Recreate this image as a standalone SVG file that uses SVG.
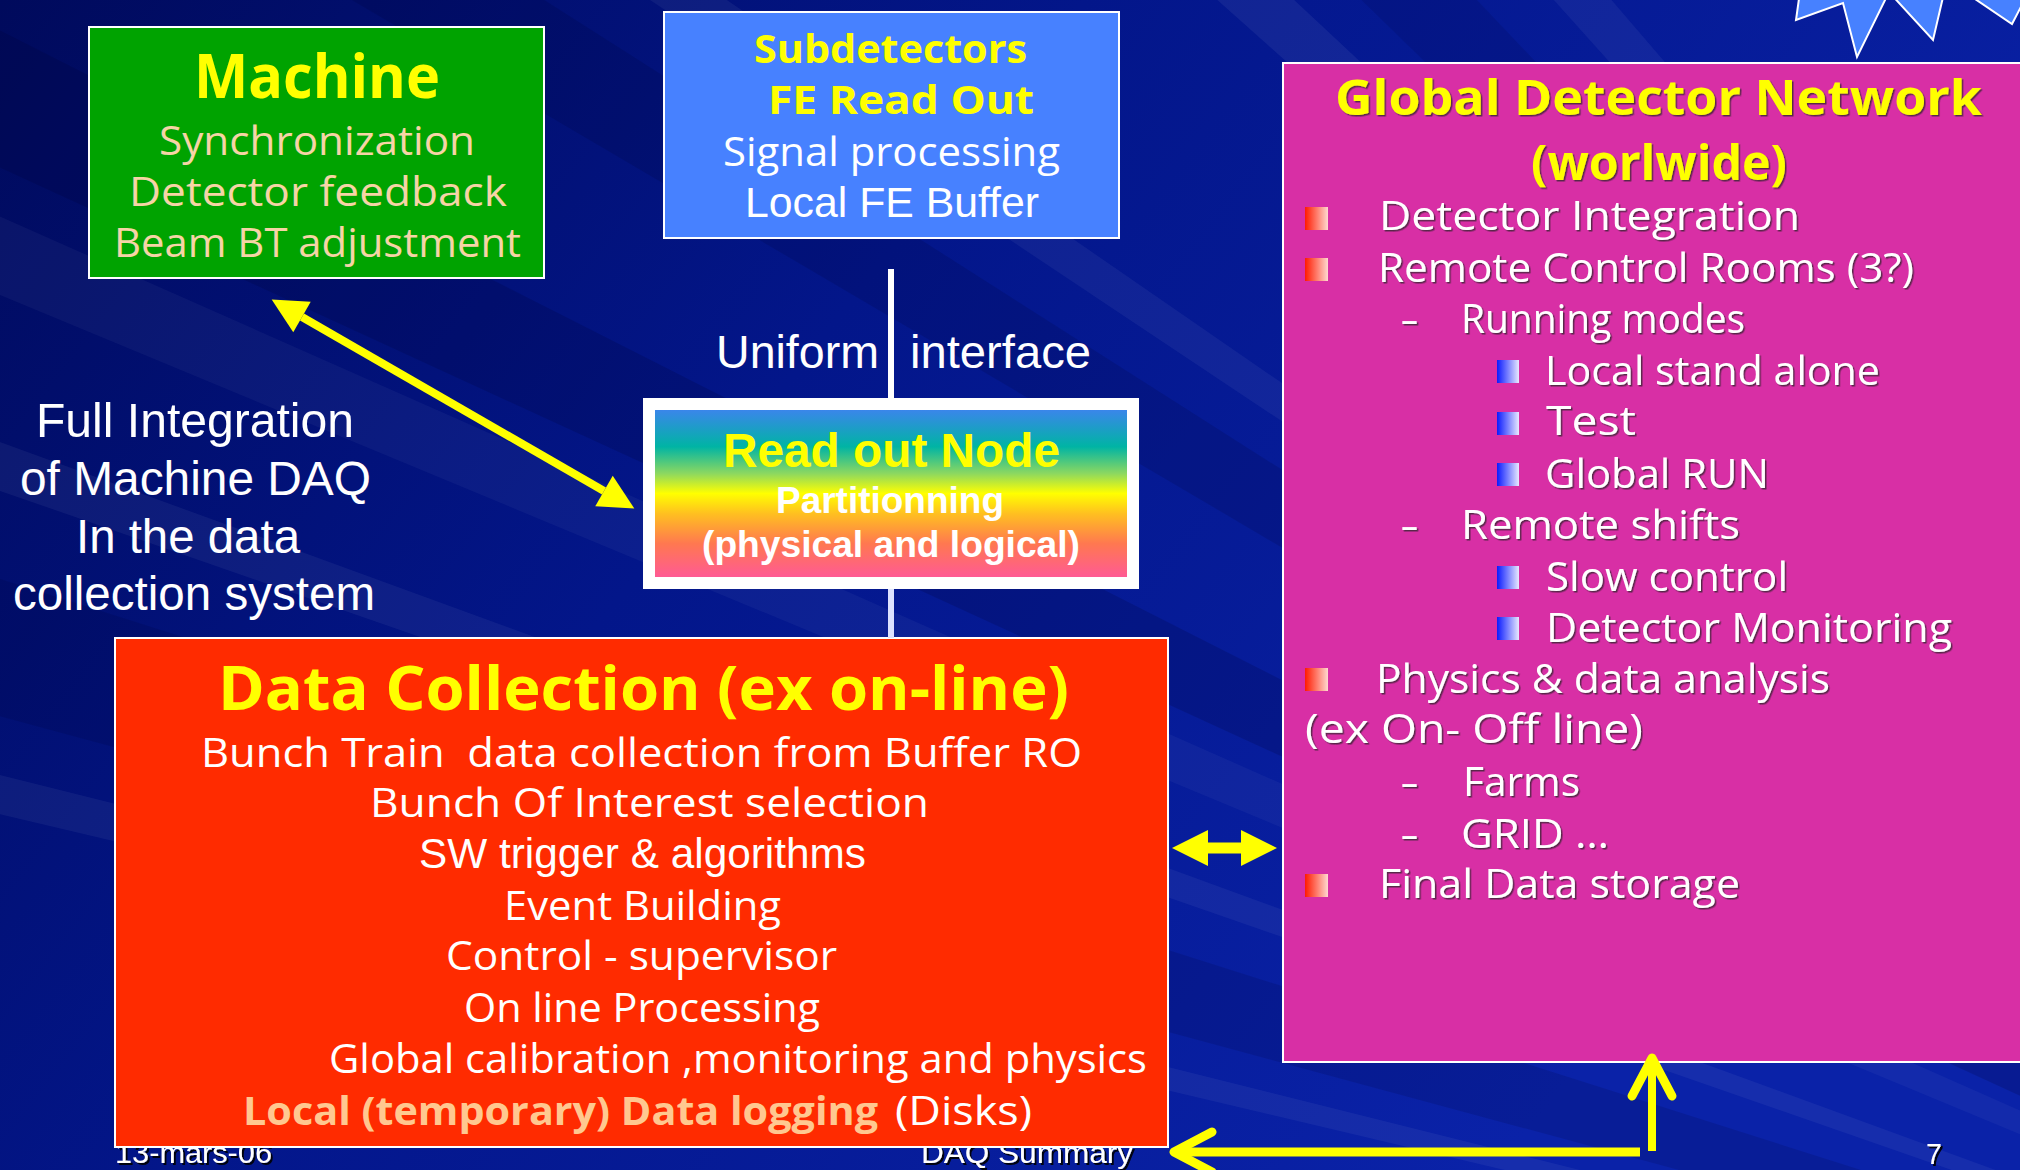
<svg xmlns="http://www.w3.org/2000/svg" width="2020" height="1170" viewBox="0 0 2020 1170">
  <defs>
    <style>
      .cs { font-family: "Open Sans", "DejaVu Sans", sans-serif; }
      .ar { font-family: "Liberation Sans", Arial, sans-serif; }
      .b { font-weight: bold; }
      .yel { fill: #ffff00; }
      .wh { fill: #ffffff; }
      .peach { fill: #f6d4a6; }
      .box { stroke: #ffffff; stroke-width: 2; }
      .ray { fill: #ffffff; }
      .shade { fill: #000030; }
      .arrow { fill: none; stroke: #ffff00; }
    </style>
    <linearGradient id="bg" gradientUnits="userSpaceOnUse" x1="0" y1="0" x2="1500" y2="1170">
      <stop offset="0" stop-color="#000a5c"/>
      <stop offset="0.45" stop-color="#03168a"/>
      <stop offset="1" stop-color="#0a22a8"/>
    </linearGradient>
    <linearGradient id="rainbow" x1="0" y1="0" x2="0" y2="1">
      <stop offset="0" stop-color="#3a86ea"/>
      <stop offset="0.22" stop-color="#00b4a4"/>
      <stop offset="0.38" stop-color="#8cd860"/>
      <stop offset="0.5" stop-color="#ffff00"/>
      <stop offset="0.62" stop-color="#ffc020"/>
      <stop offset="0.8" stop-color="#ff7850"/>
      <stop offset="1" stop-color="#ff5a94"/>
    </linearGradient>
    <linearGradient id="bulRed" x1="0" y1="0" x2="1" y2="0">
      <stop offset="0" stop-color="#ff1a00"/>
      <stop offset="1" stop-color="#ffd8d0"/>
    </linearGradient>
    <linearGradient id="bulBlue" x1="0" y1="0" x2="1" y2="0">
      <stop offset="0" stop-color="#0a1aff"/>
      <stop offset="1" stop-color="#e8e8ff"/>
    </linearGradient>
    <rect id="bR" width="23" height="23" fill="url(#bulRed)"/>
    <rect id="bB" width="22" height="23" fill="url(#bulBlue)"/>
    <filter id="sh" x="-5%" y="-20%" width="110%" height="140%">
      <feDropShadow dx="1.5" dy="1.5" stdDeviation="0.6" flood-color="#202020" flood-opacity="0.7"/>
    </filter>
    <filter id="shFoot" x="-5%" y="-20%" width="110%" height="140%">
      <feDropShadow dx="2" dy="2" stdDeviation="0.5" flood-color="#000000" flood-opacity="0.9"/>
    </filter>
    <!-- filled head, base sits on the path end -->
    <marker id="tri35" markerUnits="userSpaceOnUse" markerWidth="40" markerHeight="40" refX="0" refY="0" orient="auto-start-reverse" overflow="visible">
      <path d="M0,-17.5 L35,0 L0,17.5 Z" fill="#ffff00"/>
    </marker>
    <marker id="tri36" markerUnits="userSpaceOnUse" markerWidth="40" markerHeight="40" refX="0" refY="0" orient="auto-start-reverse" overflow="visible">
      <path d="M0,-18 L36,0 L0,18 Z" fill="#ffff00"/>
    </marker>
    <!-- open chevron head -->
    <marker id="open" markerUnits="userSpaceOnUse" markerWidth="50" markerHeight="50" refX="0" refY="0" orient="auto" overflow="visible">
      <path d="M-38,-20 L0,0 L-38,20" fill="none" stroke="#ffff00" stroke-width="9" stroke-linecap="round" stroke-linejoin="round"/>
    </marker>
  </defs>

  <!-- backdrop with fan of light streaks -->
  <g id="background">
    <rect x="0" y="0" width="2020" height="1170" fill="url(#bg)"/>
    <polygon class="shade" opacity="0.18" points="2900,1500 -60,0 -60,140"/>
    <polygon class="ray" opacity="0.04" points="2900,1500 -60,190 -60,270"/>
    <polygon class="ray" opacity="0.05" points="2900,1500 -60,420 -60,470"/>
    <polygon class="shade" opacity="0.14" points="2900,1500 -60,560 -60,700"/>
    <polygon class="ray" opacity="0.05" points="2900,1500 -60,760 -60,800"/>
    <polygon class="shade" opacity="0.15" points="2900,1500 250,-60 450,-60"/>
    <polygon class="ray" opacity="0.05" points="2900,1500 560,-60 640,-60"/>
    <polygon class="ray" opacity="0.06" points="2900,1500 1150,-60 1230,-60"/>
    <polygon class="shade" opacity="0.12" points="2900,1500 1300,-60 1420,-60"/>
    <polygon class="ray" opacity="0.05" points="2900,1500 1500,-60 1560,-60"/>
  </g>

  <!-- slide footer (partly under the data collection box) -->
  <g id="footer" class="ar wh" font-size="30" filter="url(#shFoot)">
    <text x="115" y="1163" textLength="157" lengthAdjust="spacingAndGlyphs">13-mars-06</text>
    <text x="921" y="1163" textLength="212" lengthAdjust="spacingAndGlyphs">DAQ Summary</text>
    <text x="1926" y="1164" font-size="29" textLength="16" lengthAdjust="spacingAndGlyphs">7</text>
  </g>

  <g id="star">
    <path d="M1803,-30 L1796,20 L1843,3 L1857,57 L1889,-8 L1933,40 L1947,-20 L2012,24 L2040,-30 Z" fill="#4781ff" stroke="#ffffff" stroke-width="2" stroke-linejoin="miter"/>
  </g>

  <g id="node-machine">
    <rect class="box" x="89" y="27" width="455" height="251" fill="#00a300"/>
    <text class="cs b yel" x="194" y="98" font-size="60" textLength="246" lengthAdjust="spacingAndGlyphs">Machine</text>
    <g class="cs peach" font-size="40">
      <text x="159" y="155" textLength="316" lengthAdjust="spacingAndGlyphs">Synchronization</text>
      <text x="129" y="206" textLength="378" lengthAdjust="spacingAndGlyphs">Detector feedback</text>
      <text x="114" y="257" textLength="407" lengthAdjust="spacingAndGlyphs">Beam BT adjustment</text>
    </g>
  </g>

  <g id="node-subdetectors">
    <rect class="box" x="664" y="12" width="455" height="226" fill="#4781ff"/>
    <g class="cs b yel" font-size="40">
      <text x="754" y="63" textLength="273" lengthAdjust="spacingAndGlyphs">Subdetectors</text>
      <text x="768" y="114" textLength="266" lengthAdjust="spacingAndGlyphs">FE Read Out</text>
    </g>
    <text class="cs wh" x="723" y="166" font-size="40" textLength="337" lengthAdjust="spacingAndGlyphs">Signal processing</text>
    <text class="ar wh" x="745" y="217" font-size="42" textLength="294" lengthAdjust="spacingAndGlyphs">Local FE Buffer</text>
  </g>

  <g id="node-readout">
    <rect x="643" y="398" width="496" height="191" fill="#ffffff"/>
    <rect x="655" y="410" width="472" height="167" fill="url(#rainbow)"/>
    <text class="ar b yel" x="723" y="467" font-size="48" textLength="337" lengthAdjust="spacingAndGlyphs">Read out Node</text>
    <g class="ar b wh" font-size="37">
      <text x="776" y="513" textLength="228" lengthAdjust="spacingAndGlyphs">Partitionning</text>
      <text x="702" y="557" textLength="378" lengthAdjust="spacingAndGlyphs">(physical and logical)</text>
    </g>
  </g>

  <g id="node-datacollection">
    <rect class="box" x="115" y="638" width="1053" height="509" fill="#ff2b00"/>
    <text class="cs b yel" x="218" y="710" font-size="60" textLength="851" lengthAdjust="spacingAndGlyphs">Data Collection (ex on-line)</text>
    <g class="cs wh" font-size="40">
      <text x="201" y="767" textLength="881" lengthAdjust="spacingAndGlyphs" style="white-space:pre">Bunch Train  data collection from Buffer RO</text>
      <text x="370" y="817" textLength="559" lengthAdjust="spacingAndGlyphs">Bunch Of Interest selection</text>
      <text class="ar" x="419" y="868" font-size="42" textLength="447" lengthAdjust="spacingAndGlyphs">SW trigger &amp; algorithms</text>
      <text x="504" y="920" textLength="277" lengthAdjust="spacingAndGlyphs">Event Building</text>
      <text x="446" y="970" textLength="391" lengthAdjust="spacingAndGlyphs">Control - supervisor</text>
      <text x="464" y="1022" textLength="356" lengthAdjust="spacingAndGlyphs">On line Processing</text>
      <text x="329" y="1073" textLength="818" lengthAdjust="spacingAndGlyphs">Global calibration ,monitoring and physics</text>
      <text class="b" x="243" y="1125" style="fill:#ffc890" textLength="635" lengthAdjust="spacingAndGlyphs">Local (temporary) Data logging</text>
      <text x="895" y="1125" textLength="137" lengthAdjust="spacingAndGlyphs">(Disks)</text>
    </g>
  </g>

  <g id="node-global-network">
    <rect class="box" x="1283" y="63" width="760" height="999" fill="#d82fa5"/>
    <g filter="url(#sh)">
      <g class="cs b yel" font-size="48">
        <text x="1335" y="115" textLength="647" lengthAdjust="spacingAndGlyphs">Global Detector Network</text>
        <text x="1531" y="180" textLength="256" lengthAdjust="spacingAndGlyphs">(worlwide)</text>
      </g>
      <g class="cs wh" font-size="40">
        <text x="1379" y="230" textLength="421" lengthAdjust="spacingAndGlyphs">Detector Integration</text>
        <text x="1378" y="282" textLength="536" lengthAdjust="spacingAndGlyphs">Remote Control Rooms (3?)</text>
        <text x="1401" y="333" textLength="17" lengthAdjust="spacingAndGlyphs">–</text>
        <text x="1461" y="333" textLength="284" lengthAdjust="spacingAndGlyphs">Running modes</text>
        <text x="1545" y="385" textLength="335" lengthAdjust="spacingAndGlyphs">Local stand alone</text>
        <text x="1546" y="435" textLength="90" lengthAdjust="spacingAndGlyphs">Test</text>
        <text x="1545" y="488" textLength="224" lengthAdjust="spacingAndGlyphs">Global RUN</text>
        <text x="1401" y="539" textLength="17" lengthAdjust="spacingAndGlyphs">–</text>
        <text x="1461" y="539" textLength="279" lengthAdjust="spacingAndGlyphs">Remote shifts</text>
        <text x="1546" y="591" textLength="242" lengthAdjust="spacingAndGlyphs">Slow control</text>
        <text x="1546" y="642" textLength="406" lengthAdjust="spacingAndGlyphs">Detector Monitoring</text>
        <text x="1376" y="693" textLength="454" lengthAdjust="spacingAndGlyphs">Physics &amp; data analysis</text>
        <text x="1305" y="743" textLength="338" lengthAdjust="spacingAndGlyphs">(ex On- Off line)</text>
        <text x="1401" y="796" textLength="17" lengthAdjust="spacingAndGlyphs">–</text>
        <text x="1463" y="796" textLength="117" lengthAdjust="spacingAndGlyphs">Farms</text>
        <text x="1401" y="848" textLength="17" lengthAdjust="spacingAndGlyphs">–</text>
        <text x="1461" y="848" textLength="148" lengthAdjust="spacingAndGlyphs">GRID …</text>
        <text x="1379" y="898" textLength="361" lengthAdjust="spacingAndGlyphs">Final Data storage</text>
      </g>
    </g>
    <use href="#bR" x="1305" y="207"/>
    <use href="#bR" x="1305" y="258"/>
    <use href="#bB" x="1497" y="360"/>
    <use href="#bB" x="1497" y="412"/>
    <use href="#bB" x="1497" y="463"/>
    <use href="#bB" x="1497" y="566"/>
    <use href="#bB" x="1497" y="617"/>
    <use href="#bR" x="1305" y="668"/>
    <use href="#bR" x="1305" y="874"/>
  </g>

  <g id="note-integration" class="ar wh" font-size="48">
    <text x="36" y="437" textLength="318" lengthAdjust="spacingAndGlyphs">Full Integration</text>
    <text x="20" y="495" textLength="351" lengthAdjust="spacingAndGlyphs">of Machine DAQ</text>
    <text x="76" y="553" textLength="224" lengthAdjust="spacingAndGlyphs">In the data</text>
    <text x="13" y="610" textLength="362" lengthAdjust="spacingAndGlyphs">collection system</text>
  </g>

  <g id="connectors">
    <line x1="891" y1="269" x2="891" y2="398" stroke="#ffffff" stroke-width="6"/>
    <line x1="891" y1="589" x2="891" y2="638" stroke="#dde2ff" stroke-width="6"/>
    <path class="arrow" d="M302,317 L604,491" stroke-width="8" marker-start="url(#tri35)" marker-end="url(#tri35)"/>
    <path class="arrow" d="M1208,848 H1241" stroke-width="11" marker-start="url(#tri36)" marker-end="url(#tri36)"/>
    <path class="arrow" d="M1640,1152 H1174" stroke-width="9" marker-end="url(#open)"/>
    <path class="arrow" d="M1652,1151 V1058" stroke-width="8" marker-end="url(#open)"/>
  </g>

  <g id="label-interface" class="ar wh" font-size="46">
    <text x="716" y="368" textLength="163" lengthAdjust="spacingAndGlyphs">Uniform</text>
    <text x="910" y="368" textLength="181" lengthAdjust="spacingAndGlyphs">interface</text>
  </g>
</svg>
